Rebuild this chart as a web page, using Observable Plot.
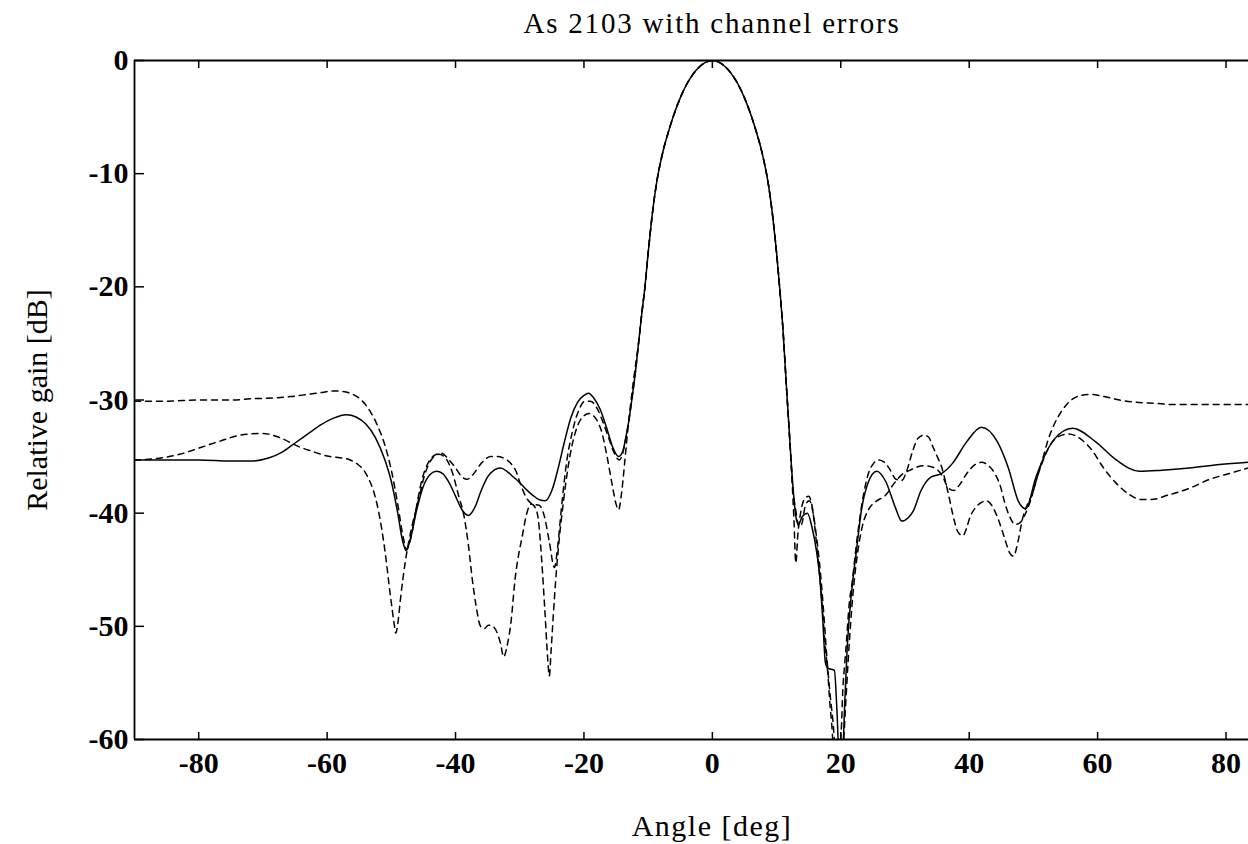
<!DOCTYPE html>
<html><head><meta charset="utf-8">
<script src="https://cdn.jsdelivr.net/npm/d3@7"></script>
<script src="https://cdn.jsdelivr.net/npm/@observablehq/plot@0.6"></script>
<style>
html,body{margin:0;padding:0;background:#fff;overflow:hidden;}
#wrap{position:relative;width:1248px;height:844px;font-family:"Liberation Serif","DejaVu Serif",serif;color:#000;}
#chart{position:absolute;left:0;top:0;}
#title{position:absolute;left:212px;width:1000px;top:9px;text-align:center;font-size:29px;line-height:29px;letter-spacing:1.8px;white-space:nowrap;}
#xlabel{position:absolute;left:212px;width:1000px;top:811px;text-align:center;font-size:30px;line-height:30px;letter-spacing:1.5px;white-space:nowrap;}
</style></head>
<body>
<div id="wrap"><div id="chart"></div><div id="title">As 2103 with channel errors</div><div id="xlabel">Angle [deg]</div></div>
<script>
const xDomain = [-90, 83.5];
const yDomain = [-60, 0];
const xTicks = [-80, -60, -40, -20, 0, 20, 40, 60, 80];
const yTicks = [0, -10, -20, -30, -40, -50, -60];

// main lobe, common to all three curves
const mainAngle = [-11.5, -11, -10.5, -10, -9.5, -9, -8.5, -8, -7.5, -7, -6, -5, -4, -3, -2, -1, 0, 1, 2, 3, 4, 5, 6, 7, 7.5, 8, 8.5, 9, 9.5, 10, 10.5, 11];
const mainGain = [-25.0, -22.4, -20.0, -17.0, -14.3, -12.0, -10.2, -8.8, -7.6, -6.6, -4.8, -3.3, -2.1, -1.2, -0.55, -0.15, 0, -0.15, -0.55, -1.2, -2.1, -3.3, -4.8, -6.6, -7.6, -8.8, -10.2, -12.0, -14.3, -17.0, -20.2, -23.8];

// solid curve
const solidLeftAngle = [-90, -85, -80, -75, -72, -69, -67, -65, -63, -61, -59, -57, -55.5, -54, -52.5, -51, -50, -49, -48.3, -47.7, -47, -46, -45, -44, -43, -42, -41, -40, -39, -38, -37, -36, -35, -34, -33, -32, -31, -30, -29, -28, -27, -26, -25, -24, -23, -22, -21, -20, -19.3, -18.5, -17.5, -16.5, -15.5, -14.6, -14, -13.5, -13, -12.5, -12];
const solidLeftGain = [-35.3, -35.3, -35.3, -35.4, -35.4, -35.1, -34.6, -33.8, -33.0, -32.2, -31.6, -31.3, -31.5, -32.1, -33.3, -35.3, -37.2, -40.0, -42.3, -43.3, -42.2, -39.6, -37.6, -36.6, -36.3, -36.5, -37.3, -38.5, -39.7, -40.2, -39.5, -38.0, -36.8, -36.2, -36.0, -36.3, -36.8, -37.3, -37.9, -38.4, -38.8, -38.9, -38.0, -36.0, -33.6, -31.5, -30.2, -29.6, -29.4, -29.8, -30.8, -32.4, -34.2, -35.0, -34.6, -33.4, -31.8, -29.8, -27.6];
const solidRightAngle = [11.5, 12, 12.5, 13.0, 13.4, 14.0, 14.8, 15.5, 16.2, 16.7, 17.2, 17.6, 18.0, 19.0, 19.4, 19.7, 20.3, 20.6, 21.0, 21.8, 22.4, 23.2, 24.2, 25.6, 27, 28.5, 29.5, 30.5, 31.3, 32.5, 34.1, 35.7, 37.4, 39.6, 41.9, 44.4, 46.1, 47.7, 48.8, 50.4, 53.2, 56.1, 59.7, 62.9, 66.5, 70, 74.3, 79, 83.5];
const solidRightGain = [-28.5, -33, -37.3, -40.3, -41.0, -40.3, -40.0, -41.2, -43.3, -45.5, -49.5, -53.2, -53.7, -53.9, -57.4, -61, -61, -57, -51.9, -46.3, -43.5, -39.8, -37.4, -36.3, -37.2, -39.5, -40.7, -40.4, -39.8, -38.0, -36.8, -36.5, -35.6, -33.7, -32.4, -33.7, -36.0, -39.0, -39.6, -36.8, -33.5, -32.5, -33.7, -35.3, -36.3, -36.2, -36.0, -35.7, -35.5];

// dashed curve A (upper plateau at the ends)
const dashALeftAngle = [-90, -85, -80, -75, -72, -68, -65.7, -63, -61, -59, -57.5, -56, -54.5, -53.3, -52.2, -51, -50, -49, -48.2, -47.6, -47, -46.2, -45.3, -44.3, -43.3, -42.2, -41, -40, -39, -38.2, -37.3, -36, -34.5, -33.5, -32.3, -31.4, -30.5, -29.9, -29, -28, -27, -26.2, -25.4, -24.6, -24.1, -23.5, -22.7, -21.8, -20.8, -19.8, -19, -18, -17, -16, -15.2, -14.5, -14, -13.5, -13, -12.5, -12];
const dashALeftGain = [-30.1, -30.1, -30.0, -30.0, -29.9, -29.8, -29.7, -29.5, -29.35, -29.2, -29.25, -29.5, -30.1, -31.0, -32.2, -34.0, -36.2, -39.2, -42.0, -43.2, -42.3, -39.8, -37.2, -35.6, -34.9, -34.7, -35.3, -36.0, -36.8, -37.0, -36.6, -35.6, -35.0, -35.0, -35.2, -35.6, -36.4, -37.4, -38.6, -39.2, -39.3, -40.2, -42.5, -44.8, -43.0, -39.5, -35.5, -32.8, -30.9, -30.1, -30.1, -30.7, -32.0, -33.6, -34.8, -35.3, -34.8, -33.4, -31.8, -29.8, -27.6];
const dashARightAngle = [11.5, 12, 12.4, 12.7, 13.0, 13.3, 13.8, 14.4, 15.0, 15.6, 16.1, 16.5, 16.9, 17.5, 18.0, 18.3, 18.6, 18.9, 19.7, 20.1, 20.3, 20.6, 20.9, 21.3, 21.8, 22.4, 22.9, 23.5, 24.3, 25.1, 25.9, 26.8, 27.6, 28.6, 29.5, 30.3, 31.2, 32.0, 33.0, 33.7, 34.4, 35.1, 35.7, 36.3, 36.8, 37.4, 38.2, 39.0, 39.6, 40.1, 41.0, 41.8, 42.6, 43.5, 44.5, 45.5, 46.3, 46.9, 47.6, 48.3, 49.0, 49.9, 50.7, 51.5, 52.3, 53.2, 54.5, 55.9, 57.4, 58.9, 61, 63.4, 66, 68.9, 72, 76, 80, 83.5];
const dashARightGain = [-28.5, -33, -37.0, -40.5, -44.4, -42.0, -39.8, -38.7, -38.5, -39.6, -42.0, -44.3, -46.6, -51.2, -54.3, -56.8, -58.7, -61, -61, -58.9, -55.8, -53.4, -51.2, -48.1, -46.0, -42.9, -40.7, -38.5, -36.5, -35.6, -35.3, -35.5, -36.1, -37.0, -37.1, -36.2, -34.5, -33.4, -33.1, -33.3, -34.2, -35.1, -35.9, -37.2, -38.4, -40.0, -41.6, -42.0, -41.3, -40.4, -39.5, -39.1, -38.9, -39.3, -40.5, -42.2, -43.5, -43.8, -42.5, -40.5, -39.3, -38.2, -36.6, -35.1, -33.5, -32.2, -30.9, -30.0, -29.6, -29.5, -29.7, -30.0, -30.2, -30.3, -30.4, -30.4, -30.4, -30.4];

// dashed curve B (lower)
const dashBLeftAngle = [-90, -87, -83, -79.7, -76.5, -73.5, -70, -67.5, -64.5, -62, -60, -58, -56.4, -55.2, -54.3, -53.5, -52.8, -52, -51, -50.1, -49.6, -49.3, -49.0, -48.6, -47.8, -46.8, -45.8, -44.8, -43.8, -42.6, -41.6, -40.5, -39.5, -38.7, -38.0, -37.4, -36.8, -36.1, -35.5, -34.9, -34.2, -33.5, -33.0, -32.5, -32.0, -31.4, -30.7, -29.6, -28.8, -28.2, -27.6, -27.1, -26.6, -26.1, -25.6, -25.4, -25.1, -24.6, -24.0, -23.2, -22.2, -21.2, -20.2, -19.2, -18.2, -17.2, -16.4, -15.6, -15.0, -14.6, -14.2, -13.7, -13.2, -12.7, -12.2];
const dashBLeftGain = [-35.3, -35.2, -34.8, -34.2, -33.6, -33.1, -32.95, -33.3, -34.1, -34.6, -34.95, -35.1, -35.3, -35.7, -36.2, -37.0, -38.0, -39.8, -43.3, -47.5, -49.6, -50.6, -49.8, -47.7, -44.2, -41.2, -38.9, -36.6, -35.3, -34.8, -35.1, -36.4, -38.5, -40.2, -42.8, -45.8, -48.2, -50.0, -50.2, -49.9, -50.0, -50.6, -51.5, -52.7, -51.8, -49.8, -45.7, -42.0, -39.8, -39.2, -39.5, -40.6, -44.0, -48.5, -53.2, -54.4, -52.0, -47.5, -43.2, -39.0, -35.0, -32.6, -31.5, -31.2, -31.6, -32.9, -35.0, -37.5, -39.2, -39.7, -38.5, -35.8, -32.8, -30.2, -27.9];
const dashBRightAngle = [11.5, 12, 12.5, 13.0, 13.5, 13.9, 14.5, 15.1, 15.7, 16.2, 16.7, 17.3, 17.8, 18.3, 18.8, 19.2, 20.3, 20.7, 21.1, 21.5, 22.0, 22.6, 23.3, 24.3, 25.4, 27.0, 28.4, 29.5, 30.8, 32.0, 33.0, 34.6, 35.7, 36.8, 37.6, 38.5, 39.5, 40.7, 41.9, 43.0, 44.1, 44.9, 45.5, 46.3, 47.2, 48.0, 48.8, 49.6, 50.5, 51.6, 52.6, 53.7, 55.5, 57.5, 59.2, 60.8, 62.8, 65.1, 66.8, 68.4, 71, 74.3, 77.5, 80.5, 83.5];
const dashBRightGain = [-28.5, -33, -37.5, -39.8, -41.2, -41.0, -39.3, -38.9, -40.0, -42.0, -44.5, -48.5, -52.5, -55.8, -58.5, -61, -61, -57.5, -53.5, -50.0, -46.5, -43.6, -41.3, -39.7, -39.0, -38.4, -37.3, -36.6, -36.2, -35.9, -35.8, -36.0, -36.6, -37.8, -38.0, -37.5, -36.6, -35.8, -35.5, -35.8, -36.6, -37.7, -39.0, -40.3, -41.0, -40.8, -40.0, -38.8, -37.0, -35.2, -34.0, -33.3, -33.0, -33.5, -34.5, -35.9, -37.3, -38.4, -38.8, -38.8, -38.4, -37.8, -37.0, -36.5, -36.0];

function build(la, lg, ra, rg) {
  const a = la.concat(mainAngle, ra), g = lg.concat(mainGain, rg);
  return a.map((x, i) => ({angle: x, gain: g[i]}));
}
const solid = build(solidLeftAngle, solidLeftGain, solidRightAngle, solidRightGain);
const dashA = build(dashALeftAngle, dashALeftGain, dashARightAngle, dashARightGain);
const dashB = build(dashBLeftAngle, dashBLeftGain, dashBRightAngle, dashBRightGain);

const lineOpts = {x: "angle", y: "gain", stroke: "#000", strokeWidth: 1.5, curve: "monotone-x", clip: true};
const fmt = d => String(d);

const chart = Plot.plot({
  width: 1248,
  height: 790,
  marginTop: 60,
  marginBottom: 51,
  marginLeft: 134,
  marginRight: 0,
  style: {fontFamily: "'Liberation Serif', 'DejaVu Serif', serif", fontSize: "30px", color: "#000", background: "transparent", overflow: "visible"},
  x: {domain: xDomain},
  y: {domain: yDomain},
  marks: [
    Plot.line(dashA, {...lineOpts, strokeDasharray: "6,5"}),
    Plot.line(dashB, {...lineOpts, strokeDasharray: "6,5"}),
    Plot.line(solid, lineOpts),
    Plot.ruleY([yDomain[1]], {stroke: "#000", strokeWidth: 1.8}),
    Plot.ruleY([yDomain[0]], {stroke: "#000", strokeWidth: 1.8}),
    Plot.ruleX([xDomain[0]], {stroke: "#000", strokeWidth: 1.8}),
    Plot.axisX({anchor: "bottom", ticks: xTicks, tickFormat: fmt, tickSize: -7, tickPadding: 19.5, strokeWidth: 1.5, label: null, fontSize: 30, fontWeight: "bold"}),
    Plot.axisX({anchor: "top", ticks: xTicks, tickSize: -7, tickFormat: () => "", strokeWidth: 1.5, label: null}),
    Plot.axisY({anchor: "left", ticks: yTicks, tickFormat: fmt, tickSize: -10, tickPadding: 16, strokeWidth: 1.5, label: null, fontSize: 30, fontWeight: "bold"}),
    Plot.text(["Relative gain [dB]"], {frameAnchor: "left", rotate: -90, dx: -97, textAnchor: "middle", lineAnchor: "middle", fontSize: 30, fill: "#000", style: "letter-spacing:1.3px"})
  ]
});
document.getElementById("chart").appendChild(chart);
</script>
</body></html>
